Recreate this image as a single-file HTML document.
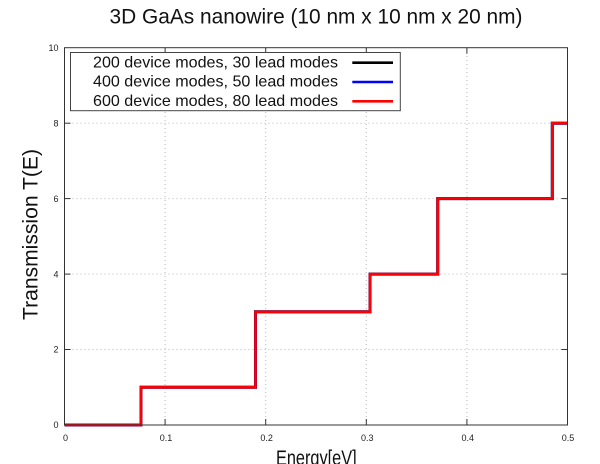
<!DOCTYPE html>
<html>
<head>
<meta charset="utf-8">
<style>
  html, body { margin: 0; padding: 0; background: #ffffff; }
  svg { display: block; }
  text { font-family: "Liberation Sans", "DejaVu Sans", sans-serif; }
</style>
</head>
<body>
<svg width="600" height="464" viewBox="0 0 600 464" xmlns="http://www.w3.org/2000/svg">
  <rect x="0" y="0" width="600" height="464" fill="#ffffff"/>

  <!-- Title -->
  <text x="316" y="23.5" font-size="21" text-anchor="middle" textLength="413" lengthAdjust="spacingAndGlyphs" fill="#111">3D GaAs nanowire (10 nm x 10 nm x 20 nm)</text>

  <!-- Grid (dotted) -->
  <g stroke="#b8b8b8" stroke-width="1" stroke-dasharray="1,3" fill="none">
    <line x1="165.1" y1="48" x2="165.1" y2="425"/>
    <line x1="265.7" y1="48" x2="265.7" y2="425"/>
    <line x1="366.3" y1="48" x2="366.3" y2="425"/>
    <line x1="466.9" y1="48" x2="466.9" y2="425"/>
    <line x1="64.5" y1="349.5" x2="567.5" y2="349.5"/>
    <line x1="64.5" y1="274.1" x2="567.5" y2="274.1"/>
    <line x1="64.5" y1="198.6" x2="567.5" y2="198.6"/>
    <line x1="64.5" y1="123.2" x2="567.5" y2="123.2"/>
  </g>

  <!-- Tick marks -->
  <g stroke="#333" stroke-width="1">
    <!-- bottom -->
    <line x1="165.1" y1="425" x2="165.1" y2="419"/>
    <line x1="265.7" y1="425" x2="265.7" y2="419"/>
    <line x1="366.3" y1="425" x2="366.3" y2="419"/>
    <line x1="466.9" y1="425" x2="466.9" y2="419"/>
    <!-- top -->
    <line x1="165.1" y1="47.7" x2="165.1" y2="53.7"/>
    <line x1="265.7" y1="47.7" x2="265.7" y2="53.7"/>
    <line x1="366.3" y1="47.7" x2="366.3" y2="53.7"/>
    <line x1="466.9" y1="47.7" x2="466.9" y2="53.7"/>
    <!-- left -->
    <line x1="64.5" y1="349.5" x2="70.5" y2="349.5"/>
    <line x1="64.5" y1="274.1" x2="70.5" y2="274.1"/>
    <line x1="64.5" y1="198.6" x2="70.5" y2="198.6"/>
    <line x1="64.5" y1="123.2" x2="70.5" y2="123.2"/>
    <!-- right -->
    <line x1="567.5" y1="349.5" x2="561.5" y2="349.5"/>
    <line x1="567.5" y1="274.1" x2="561.5" y2="274.1"/>
    <line x1="567.5" y1="198.6" x2="561.5" y2="198.6"/>
    <line x1="567.5" y1="123.2" x2="561.5" y2="123.2"/>
  </g>

  <!-- Data series -->
  <g fill="none" stroke-linejoin="miter">
    <path d="M64.5,425 H141 V387.3 H255.5 V311.8 H370 V274.1 H437.7 V198.6 H552.3 V123.2 H567.5" stroke="#000000" stroke-width="3"/>
    <path d="M64.5,425 H141 V387.3 H255.5 V311.8 H370 V274.1 H437.7 V198.6 H552.3 V123.2 H567.5" stroke="#0000ff" stroke-width="3" opacity="0.6"/>
    <path d="M64.5,425 H141 V387.3 H255.5 V311.8 H370 V274.1 H437.7 V198.6 H552.3 V123.2 H567.5" stroke="#ff0000" stroke-width="2.6"/>
  </g>

  <!-- Plot border -->
  <rect x="64.5" y="47.7" width="503" height="377.3" fill="none" stroke="#333" stroke-width="1"/>

  <!-- Legend -->
  <rect x="70.5" y="52.5" width="329.8" height="58.2" fill="#ffffff" stroke="#444" stroke-width="1"/>
  <g font-size="16" fill="#111" text-anchor="end">
    <text x="338" y="67.3" textLength="245" lengthAdjust="spacingAndGlyphs">200 device modes, 30 lead modes</text>
    <text x="338" y="86.6" textLength="245" lengthAdjust="spacingAndGlyphs">400 device modes, 50 lead modes</text>
    <text x="338" y="105.9" textLength="245" lengthAdjust="spacingAndGlyphs">600 device modes, 80 lead modes</text>
  </g>
  <line x1="352.3" y1="62.7" x2="393" y2="62.7" stroke="#000000" stroke-width="2.6"/>
  <line x1="352.3" y1="82" x2="393" y2="82" stroke="#0000ff" stroke-width="2.6"/>
  <line x1="352.3" y1="101.3" x2="393" y2="101.3" stroke="#ff0000" stroke-width="2.6"/>

  <!-- Y tick labels -->
  <g font-size="9" fill="#222" text-anchor="end">
    <text x="58.5" y="428.2">0</text>
    <text x="58.5" y="352.7">2</text>
    <text x="58.5" y="277.3">4</text>
    <text x="58.5" y="201.8">6</text>
    <text x="58.5" y="126.4">8</text>
    <text x="58.5" y="50.9">10</text>
  </g>

  <!-- X tick labels -->
  <g font-size="9" fill="#222" text-anchor="middle">
    <text x="65.5" y="441">0</text>
    <text x="166" y="441">0.1</text>
    <text x="266.6" y="441">0.2</text>
    <text x="367.2" y="441">0.3</text>
    <text x="467.8" y="441">0.4</text>
    <text x="568" y="441">0.5</text>
  </g>

  <!-- Axis labels -->
  <text x="316.3" y="465" font-size="21" text-anchor="middle" textLength="80.7" lengthAdjust="spacingAndGlyphs" fill="#111">Energy[eV]</text>
  <text transform="translate(37.5,234.5) rotate(-90)" x="0" y="0" font-size="21" text-anchor="middle" textLength="171" lengthAdjust="spacingAndGlyphs" fill="#111">Transmission T(E)</text>
</svg>
</body>
</html>
